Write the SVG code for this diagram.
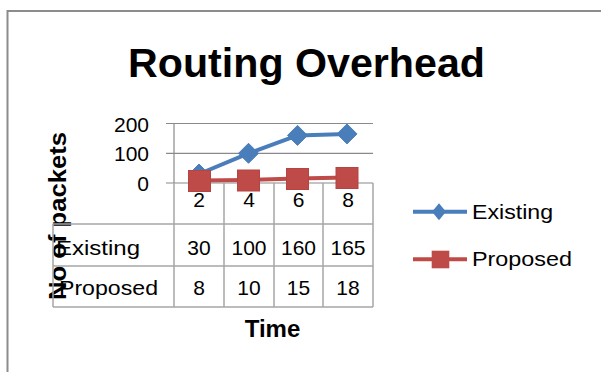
<svg xmlns="http://www.w3.org/2000/svg" width="601" height="372" viewBox="0 0 601 372">
  <style>
    .t { font-family: "Liberation Sans", Arial, sans-serif; fill: #000; }
    .lbl { font-size: 21px; }
    .num { font-size: 21px; text-anchor: middle; }
    .ax { font-size: 21px; text-anchor: end; }
    .grid { stroke: #8a8a8a; stroke-width: 1.2; fill: none; }
    .tbl { stroke: #a6a6a6; stroke-width: 1.5; fill: none; }
    .ex { stroke: #4a7ebb; stroke-width: 4; fill: none; stroke-linejoin: round; }
    .pr { stroke: #be4b48; stroke-width: 4; fill: none; stroke-linejoin: round; }
  </style>
  <defs>
    <path id="dia" d="M0,-10 L10,0 L0,10 L-10,0 Z" fill="#4a7ebb" stroke="#4a7ebb" stroke-width="1"/>
    <rect id="sq" x="-11" y="-10.5" width="22" height="21" fill="#be4b48" stroke="#b54542" stroke-width="1"/>
    <path id="ldia" d="M0,-8.5 L7,0 L0,8.5 L-7,0 Z" fill="#4a7ebb"/>
    <rect id="lsq" x="-8.8" y="-8.8" width="17.6" height="17.6" fill="#be4b48"/>
  </defs>

  <rect width="601" height="372" fill="#fff"/>
  <g id="chart-border">
    <rect x="7.5" y="11" width="620" height="400" fill="none" stroke="#8c8c8c" stroke-width="2"/>
  </g>

  <g id="title">
    <text class="t" x="306.5" y="77" font-size="40" font-weight="bold" text-anchor="middle" textLength="357" lengthAdjust="spacingAndGlyphs">Routing Overhead</text>
  </g>

  <g id="gridlines">
    <line class="grid" x1="166" y1="123.5" x2="373" y2="123.5"/>
    <line class="grid" x1="166" y1="153.3" x2="373" y2="153.3"/>
    <line class="grid" x1="166" y1="183" x2="373" y2="183"/>
  </g>

  <g id="y-axis">
    <line class="grid" x1="174" y1="123.5" x2="174" y2="183"/>
    <text class="t ax" x="149" y="131.5">200</text>
    <text class="t ax" x="149" y="161">100</text>
    <text class="t ax" x="149" y="190.5">0</text>
    <text class="t" transform="translate(66,216) rotate(-90)" font-size="23" font-weight="bold" text-anchor="middle" textLength="168" lengthAdjust="spacingAndGlyphs">No of packets</text>
  </g>

  <g id="data-table">
    <line class="tbl" x1="53" y1="224" x2="373" y2="224"/>
    <line class="tbl" x1="53" y1="266" x2="373" y2="266"/>
    <line class="tbl" x1="53" y1="307" x2="373" y2="307"/>
    <line class="tbl" x1="53" y1="224" x2="53" y2="307"/>
    <line class="tbl" x1="174" y1="183" x2="174" y2="307"/>
    <line class="tbl" x1="224" y1="183" x2="224" y2="307"/>
    <line class="tbl" x1="274" y1="183" x2="274" y2="307"/>
    <line class="tbl" x1="323" y1="183" x2="323" y2="307"/>
    <line class="tbl" x1="373" y1="183" x2="373" y2="307"/>
    <text class="t num" x="199" y="207">2</text>
    <text class="t num" x="249" y="207">4</text>
    <text class="t num" x="298.5" y="207">6</text>
    <text class="t num" x="348" y="207">8</text>
    <text class="t lbl" x="56" y="255" textLength="84" lengthAdjust="spacingAndGlyphs">Existing</text>
    <text class="t num" x="199" y="255">30</text>
    <text class="t num" x="249" y="255">100</text>
    <text class="t num" x="298.5" y="255">160</text>
    <text class="t num" x="348" y="255">165</text>
    <text class="t lbl" x="59" y="295" textLength="99" lengthAdjust="spacingAndGlyphs">Proposed</text>
    <text class="t num" x="199" y="295">8</text>
    <text class="t num" x="249" y="295">10</text>
    <text class="t num" x="298.5" y="295">15</text>
    <text class="t num" x="348" y="295">18</text>
  </g>

  <g id="x-axis-title">
    <text class="t" x="272.5" y="337" font-size="24" font-weight="bold" text-anchor="middle">Time</text>
  </g>

  <g id="connectors">
    <polyline class="ex" points="199,174 248.5,153.3 297.5,135.4 347,133.9"/>
    <polyline class="pr" points="199,180.6 248.5,180 297.5,178.5 347,177.6"/>
  </g>

  <g id="series-existing">
    <use href="#dia" x="199" y="174"/>
    <use href="#dia" x="248.5" y="153.3"/>
    <use href="#dia" x="297.5" y="135.4"/>
    <use href="#dia" x="347" y="133.9"/>
  </g>

  <g id="series-proposed">
    <use href="#sq" x="199.5" y="181"/>
    <use href="#sq" x="248.5" y="180.5"/>
    <use href="#sq" x="297.5" y="179"/>
    <use href="#sq" x="347" y="178"/>
  </g>

  <g id="legend">
    <line class="ex" x1="413" y1="211.7" x2="467" y2="211.7"/>
    <use href="#ldia" x="439" y="211.7"/>
    <text class="t lbl" x="472" y="219" textLength="81" lengthAdjust="spacingAndGlyphs">Existing</text>
    <line class="pr" x1="413" y1="259.3" x2="467" y2="259.3"/>
    <use href="#lsq" x="440.5" y="259.5"/>
    <text class="t lbl" x="472" y="266" textLength="100" lengthAdjust="spacingAndGlyphs">Proposed</text>
  </g>
</svg>
